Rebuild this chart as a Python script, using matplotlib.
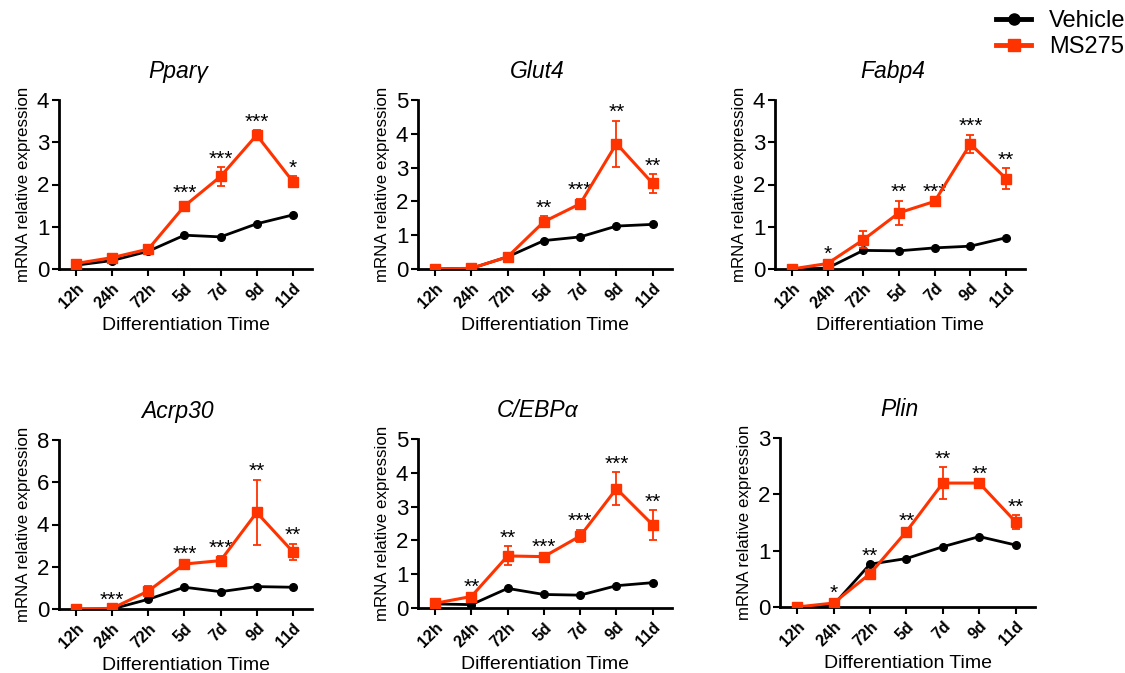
import matplotlib
matplotlib.use("Agg")
import matplotlib.pyplot as plt
from matplotlib.lines import Line2D
import numpy as np

plt.rcParams["font.family"] = ["Liberation Sans", "DejaVu Sans"]

# ---------------------------------------------------------------------------
# Data
# ---------------------------------------------------------------------------
TIMES = ["12h", "24h", "72h", "5d", "7d", "9d", "11d"]

GENES = ["Pparγ", "Glut4", "Fabp4", "Acrp30", "C/EBPα", "Plin"]
YMAX = [4, 5, 4, 8, 5, 3]
YSTEP = [1, 1, 1, 2, 1, 1]

pparg_veh = [0.09, 0.20, 0.42, 0.80, 0.76, 1.07, 1.28]
pparg_ms = [0.13, 0.27, 0.47, 1.49, 2.19, 3.17, 2.07]
pparg_err = [0.03, 0.03, 0.03, 0.10, 0.22, 0.12, 0.12]
pparg_sig = ["", "", "", "***", "***", "***", "*"]

glut4_veh = [0.00, 0.02, 0.36, 0.84, 0.95, 1.27, 1.32]
glut4_ms = [0.00, 0.02, 0.36, 1.40, 1.93, 3.71, 2.53]
glut4_err = [0.02, 0.02, 0.03, 0.16, 0.15, 0.68, 0.28]
glut4_sig = ["", "", "", "**", "***", "**", "**"]

fabp4_veh = [0.00, 0.02, 0.44, 0.43, 0.50, 0.54, 0.74]
fabp4_ms = [0.00, 0.13, 0.69, 1.33, 1.60, 2.96, 2.14]
fabp4_err = [0.01, 0.03, 0.20, 0.29, 0.03, 0.22, 0.25]
fabp4_sig = ["", "*", "", "**", "***", "***", "**"]

acrp30_veh = [0.00, 0.00, 0.46, 1.03, 0.82, 1.06, 1.03]
acrp30_ms = [0.00, 0.03, 0.85, 2.13, 2.29, 4.57, 2.71]
acrp30_err = [0.02, 0.02, 0.24, 0.08, 0.20, 1.55, 0.38]
acrp30_sig = ["", "***", "", "***", "***", "**", "**"]

cebpa_veh = [0.12, 0.10, 0.58, 0.40, 0.38, 0.66, 0.75]
cebpa_ms = [0.14, 0.34, 1.54, 1.52, 2.13, 3.53, 2.46]
cebpa_err = [0.02, 0.03, 0.28, 0.04, 0.19, 0.49, 0.44]
cebpa_sig = ["", "**", "**", "***", "***", "***", "**"]

plin_veh = [0.00, 0.04, 0.76, 0.86, 1.07, 1.25, 1.10]
plin_ms = [0.00, 0.07, 0.59, 1.34, 2.20, 2.20, 1.51]
plin_err = [0.01, 0.02, 0.03, 0.03, 0.28, 0.02, 0.12]
plin_sig = ["", "*", "**", "**", "**", "**", "**"]

VEH = [pparg_veh, glut4_veh, fabp4_veh, acrp30_veh, cebpa_veh, plin_veh]
MS = [pparg_ms, glut4_ms, fabp4_ms, acrp30_ms, cebpa_ms, plin_ms]
ERR = [pparg_err, glut4_err, fabp4_err, acrp30_err, cebpa_err, plin_err]
SIG = [pparg_sig, glut4_sig, fabp4_sig, acrp30_sig, cebpa_sig, plin_sig]

RED = "#FF3300"

# axes rectangles in pixels (left, top, width) on a 1125x673 canvas
W, H = 1125, 673
AX_PX = [
    (59, 100, 253), (418, 100, 254), (775, 100, 250),
    (59, 440, 253), (418, 439, 254), (780, 438, 255),
]
AX_HPX = 169

fig = plt.figure(figsize=(W / 100, H / 100), dpi=100)

for i, gene in enumerate(GENES):
    left, top, width = AX_PX[i]
    ax = fig.add_axes([left / W, (H - top - AX_HPX) / H, width / W, AX_HPX / H])
    x = np.arange(len(TIMES))

    ax.plot(x, VEH[i], color="black", lw=2, marker="o", ms=5.5, zorder=3)
    ax.errorbar(x, MS[i], yerr=ERR[i], color=RED, lw=2.2, marker="s",
                ms=6.5, capsize=3, capthick=1.3, elinewidth=1.3, zorder=4)

    # significance stars above the highest point at each time
    for xi, s in enumerate(SIG[i]):
        if not s:
            continue
        top_val = max(MS[i][xi] + ERR[i][xi], VEH[i][xi])
        ax.annotate(s, (xi, top_val), xytext=(0, -1), textcoords="offset points",
                    ha="center", va="bottom", fontsize=15)

    ax.set_xlim(-0.47, 6.53)
    ax.set_ylim(0, YMAX[i])
    ax.set_yticks(np.arange(0, YMAX[i] + 0.01, YSTEP[i]))
    ax.set_xticks(x)
    ax.set_xticklabels(TIMES, rotation=45, ha="right", rotation_mode="anchor",
                       fontsize=11.5, fontweight="bold")
    ax.tick_params(axis="y", labelsize=16, width=1.5, length=5, pad=2)
    ax.tick_params(axis="x", width=1.5, length=5)
    for side in ("top", "right"):
        ax.spines[side].set_visible(False)
    for side in ("left", "bottom"):
        ax.spines[side].set_linewidth(2)

    ax.set_ylabel("mRNA relative expression", fontsize=12.2, labelpad=4)
    ax.set_xlabel("Differentiation Time", fontsize=14, labelpad=4)
    ax.set_title(gene, fontsize=16.5, style="italic", pad=16, x=0.47)

handles = [
    Line2D([], [], color="black", lw=3.5, marker="o", ms=8),
    Line2D([], [], color=RED, lw=3.5, marker="s", ms=8.5),
]
fig.legend(handles, ["Vehicle", "MS275"], loc="upper right",
           bbox_to_anchor=(1.012, 1.004), frameon=False, fontsize=17,
           handlelength=1.5, handletextpad=0.75, labelspacing=0.15,
           borderaxespad=0.15)

fig.savefig("out.png", dpi=100)
